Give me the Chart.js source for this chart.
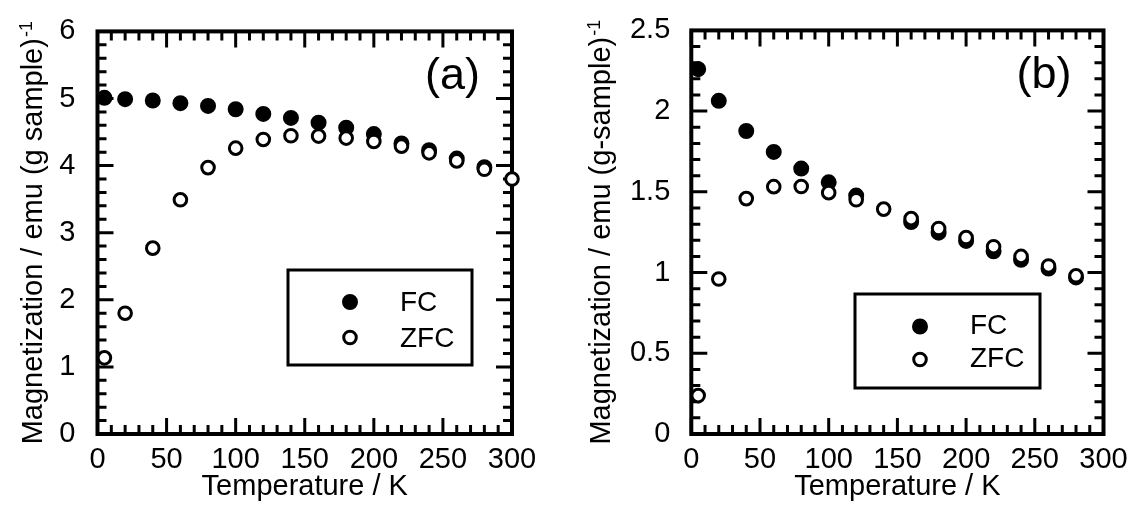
<!DOCTYPE html>
<html><head><meta charset="utf-8">
<script src="https://cdn.jsdelivr.net/npm/chart.js@4.4.1/dist/chart.umd.min.js"></script>
<style>
html,body{margin:0;padding:0;background:#fff;}
#wrap{position:relative;width:1137px;height:512px;overflow:hidden;background:#fff;}
canvas{position:absolute;top:0;}
#ca{left:0;} #cb{left:568px;}
</style></head><body>
<div id="wrap"><canvas id="ca" width="568" height="512"></canvas><canvas id="cb" width="569" height="512"></canvas></div>
<script>
// ---- data ----
const tempA = [5,20,40,60,80,100,120,140,160,180,200,220,240,260,280,300];
const fcA   = [5.01,4.99,4.97,4.93,4.89,4.84,4.77,4.71,4.64,4.565,4.47,4.33,4.23,4.105,3.975,null];
const zfcA  = [1.135,1.80,2.77,3.49,3.97,4.26,4.39,4.445,4.44,4.41,4.36,4.29,4.19,4.07,3.945,3.80];

const tempB = [5,20,40,60,80,100,120,140,160,180,200,220,240,260,280];
const fcB   = [2.26,2.064,1.877,1.747,1.644,1.559,1.477,null,1.313,1.247,1.196,1.132,1.079,1.025,0.970];
const zfcB  = [0.238,0.96,1.458,1.532,1.533,1.495,1.451,1.393,1.334,1.273,1.217,1.16,1.10,1.041,0.98];

const xTickVals  = [0,50,100,150,200,250,300];
const yTickValsA = [0,1,2,3,4,5,6];
const yTickValsB = [0,0.5,1,1.5,2,2.5];

const seriesLabels = ['FC','ZFC'];
const xTitle = 'Temperature / K';
const yTitleA = 'Magnetization / emu (g sample)';
const yTitleB = 'Magnetization / emu (g-sample)';
const ySup = '-1';

// ---- chart setup ----
const FONT = '"Liberation Sans", Arial, Helvetica, sans-serif';
Chart.defaults.font.family = FONT;
Chart.defaults.color = '#000';

const frameTicks = {
  id: 'frameTicks',
  beforeDatasetsDraw(chart, args, o) {
    const {ctx, chartArea: {left, right, top, bottom}} = chart;
    const xs = chart.scales.x, ys = chart.scales.y;
    ctx.save();
    ctx.strokeStyle = '#000';
    ctx.lineWidth = 3;
    ctx.lineCap = 'butt';
    ctx.beginPath();
    const isMajor = (v, m) => Math.abs(v / m - Math.round(v / m)) < 1e-6;
    const nx = Math.round((xs.max - xs.min) / o.xMinor);
    for (let i = 0; i <= nx; i++) {
      const v = xs.min + i * o.xMinor;
      const len = isMajor(v, o.xMajor) ? o.majorLen : o.minorLen;
      const p = xs.getPixelForValue(v);
      ctx.moveTo(p, bottom); ctx.lineTo(p, bottom - len);
      ctx.moveTo(p, top); ctx.lineTo(p, top + len);
    }
    const ny = Math.round((ys.max - ys.min) / o.yMinor);
    for (let i = 0; i <= ny; i++) {
      const v = ys.min + i * o.yMinor;
      const len = isMajor(v, o.yMajor) ? o.majorLen : o.minorLen;
      const p = ys.getPixelForValue(v);
      ctx.moveTo(left, p); ctx.lineTo(left + len, p);
      ctx.moveTo(right, p); ctx.lineTo(right - len, p);
    }
    ctx.stroke();
    ctx.lineWidth = 4;
    ctx.strokeRect(left, top, right - left, bottom - top);
    ctx.restore();
  }
};

const yTitlePlugin = {
  id: 'yTitle',
  afterDraw(chart, args, o) {
    const {ctx, chartArea: {top, bottom}} = chart;
    ctx.save();
    ctx.fillStyle = '#000';
    const mainFont = o.size + 'px ' + FONT;
    const supFont = o.supSize + 'px ' + FONT;
    ctx.font = mainFont; const w1 = ctx.measureText(o.text).width;
    ctx.font = supFont; const w2 = ctx.measureText(o.sup).width;
    const total = w1 + o.gap + w2;
    const cy = (top + bottom) / 2 + o.shiftY;
    ctx.translate(o.x, cy);
    ctx.rotate(-Math.PI / 2);
    ctx.textAlign = 'left';
    ctx.textBaseline = 'alphabetic';
    ctx.font = mainFont;
    ctx.fillText(o.text, -total / 2, 0);
    ctx.font = supFont;
    ctx.fillText(o.sup, -total / 2 + w1 + o.gap, -o.supRaise);
    ctx.restore();
  }
};

const boxLegend = {
  id: 'boxLegend',
  afterDraw(chart, args, o) {
    const {ctx} = chart;
    ctx.save();
    ctx.strokeStyle = '#000';
    ctx.lineWidth = 3;
    ctx.strokeRect(o.left, o.top, o.width, o.height);
    chart.data.datasets.forEach((ds, i) => {
      const y = o.top + o.rowY[i];
      ctx.beginPath();
      ctx.arc(o.left + o.markerX, y, ds.pointRadius, 0, Math.PI * 2);
      ctx.fillStyle = ds.pointBackgroundColor;
      ctx.fill();
      ctx.lineWidth = ds.pointBorderWidth;
      ctx.strokeStyle = ds.pointBorderColor;
      ctx.stroke();
      ctx.fillStyle = '#000';
      ctx.font = o.size + 'px ' + FONT;
      ctx.textAlign = 'left';
      ctx.textBaseline = 'middle';
      ctx.fillText(ds.label, o.left + o.textX, y + o.textDy);
    });
    ctx.restore();
  }
};

const panelLabel = {
  id: 'panelLabel',
  afterDraw(chart, args, o) {
    const {ctx, chartArea: {right, top}} = chart;
    ctx.save();
    ctx.fillStyle = '#000';
    ctx.font = o.size + 'px ' + FONT;
    ctx.textAlign = 'right';
    ctx.textBaseline = 'alphabetic';
    ctx.fillText(o.text, right - o.dx, top + o.dy);
    ctx.restore();
  }
};

function pts(temps, vals) {
  const out = [];
  temps.forEach((t, i) => { if (vals[i] !== null) out.push({x: t, y: vals[i]}); });
  return out;
}

function makeChart(id, c) {
  return new Chart(document.getElementById(id), {
    type: 'scatter',
    data: {
      datasets: [
        {label: seriesLabels[0], data: pts(c.temps, c.fc), pointRadius: 6.5, pointBorderWidth: 3,
         pointBackgroundColor: '#000', pointBorderColor: '#000', order: 2, clip: false},
        {label: seriesLabels[1], data: pts(c.temps, c.zfc), pointRadius: 6.3, pointBorderWidth: 3,
         pointBackgroundColor: '#fff', pointBorderColor: '#000', order: 1, clip: false}
      ]
    },
    options: {
      responsive: false,
      animation: false,
      events: [],
      layout: {padding: {top: 21.5, right: c.padRight, left: 0, bottom: 0}},
      scales: {
        x: {
          type: 'linear', min: 0, max: 300,
          afterBuildTicks: s => { s.ticks = xTickVals.map(v => ({value: v})); },
          afterFit: s => { s.height = 78; },
          grid: {display: false}, border: {display: false},
          ticks: {padding: 0.5, font: {size: 29}, color: '#000', maxRotation: 0, autoSkip: false,
                  callback: v => String(v)},
          title: {display: true, text: xTitle, font: {size: 29}, color: '#000', padding: {top: 0, bottom: 7.5}}
        },
        y: {
          type: 'linear', min: 0, max: c.yMax,
          afterBuildTicks: s => { s.ticks = c.yTicks.map(v => ({value: v})); },
          afterFit: s => { s.width = c.plotLeft; },
          grid: {display: false}, border: {display: false},
          ticks: {padding: c.yPad, font: {size: 29}, color: '#000', autoSkip: false,
                  callback: v => String(v)}
        }
      },
      plugins: {
        legend: {display: false},
        tooltip: {enabled: false},
        frameTicks: {xMajor: 50, xMinor: 10, yMajor: c.yMajor, yMinor: c.yMinor, majorLen: 16, minorLen: 9},
        yTitle: {text: c.yTitle, sup: ySup, size: 29, supSize: 18, gap: 1, supRaise: 10, x: 41.5, shiftY: 0},
        boxLegend: c.legend,
        panelLabel: {text: c.panel, size: 45, dx: 32, dy: 58}
      }
    },
    plugins: [frameTicks, yTitlePlugin, boxLegend, panelLabel]
  });
}

makeChart('ca', {
  temps: tempA, fc: fcA, zfc: zfcA, yMax: 6, yTicks: yTickValsA, yMajor: 1, yMinor: 0.2,
  plotLeft: 97.5, padRight: 56, yPad: 14, yTitle: yTitleA, panel: '(a)',
  legend: {left: 288, top: 270, width: 184, height: 95, markerX: 62, textX: 112, rowY: [32, 67.5], textDy: 1.5, size: 28}
});
makeChart('cb', {
  temps: tempB, fc: fcB, zfc: zfcB, yMax: 2.5, yTicks: yTickValsB, yMajor: 0.5, yMinor: 0.1,
  plotLeft: 123.3, padRight: 33.5, yPad: 13, yTitle: yTitleB, panel: '(b)',
  legend: {left: 287, top: 294, width: 185, height: 94, markerX: 65, textX: 115, rowY: [32.5, 65.5], textDy: 0, size: 28}
});
</script>
</body></html>
